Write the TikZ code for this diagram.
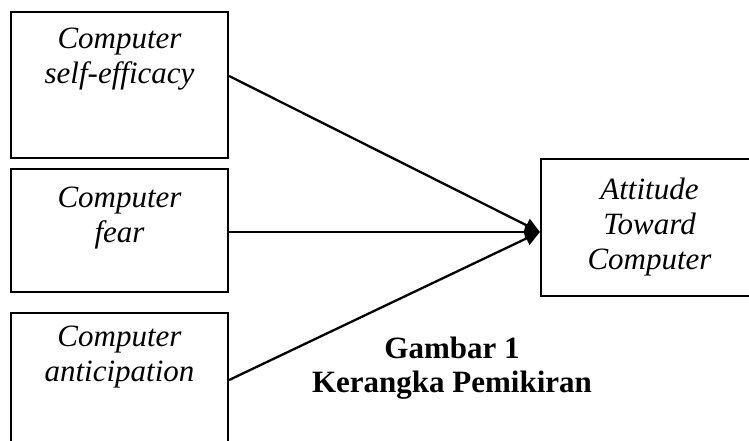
\documentclass[tikz,border=0pt]{standalone}
\usepackage{fontspec}
\setmainfont{Liberation Serif}
\usetikzlibrary{arrows.meta}
\tikzset{
  box/.style={draw,line width=2.2pt,minimum width=217pt,inner sep=0pt},
  lbl/.style={font=\fontsize{31}{35}\selectfont\itshape,align=center,inner sep=0pt,anchor=north},
  link/.style={line width=2.3pt,-{Triangle[length=15pt,width=14pt]}}
}
\def\arr{\draw[link]}

\begin{document}
\begin{tikzpicture}[x=1pt,y=-1pt]
    \clip (0,0) rectangle (749,441);
    % boxes
    \node[box,minimum height=146pt] (cse) at (119.5,85) {};
    \node[box,minimum height=123pt] (cfr) at (119.5,230.5) {};
    \node[box,minimum height=146pt] (can) at (119.5,386) {};
    \node[box,minimum height=137pt] (atc) at (649.5,227.5) {};
    % texts
    \node[lbl] (tcse) at ([yshift=-17pt]cse.north) {Computer\\self-efficacy};
    \node[lbl] (tcfr) at ([yshift=-19pt]cfr.north) {Computer\\fear};
    \node[lbl] (tcan) at ([yshift=-14pt]can.north) {Computer\\anticipation};
    \node[lbl,anchor=center] (tatc) at (atc) {Attitude\\Toward\\Computer};
    \node[font=\fontsize{31}{34}\selectfont\bfseries,align=center,inner sep=0pt,anchor=north]
        (cap) at (452,337) {Gambar 1\\Kerangka Pemikiran};
    % arrows
    \arr ([yshift=9pt]cse.east) -- ([yshift=-4.5pt]atc.west);
    \arr ([yshift=-1.5pt]cfr.east) -- ([yshift=-4.5pt]atc.west);
    \arr ([yshift=6pt]can.east) -- ([yshift=-4.5pt]atc.west);
\end{tikzpicture}
\end{document}
